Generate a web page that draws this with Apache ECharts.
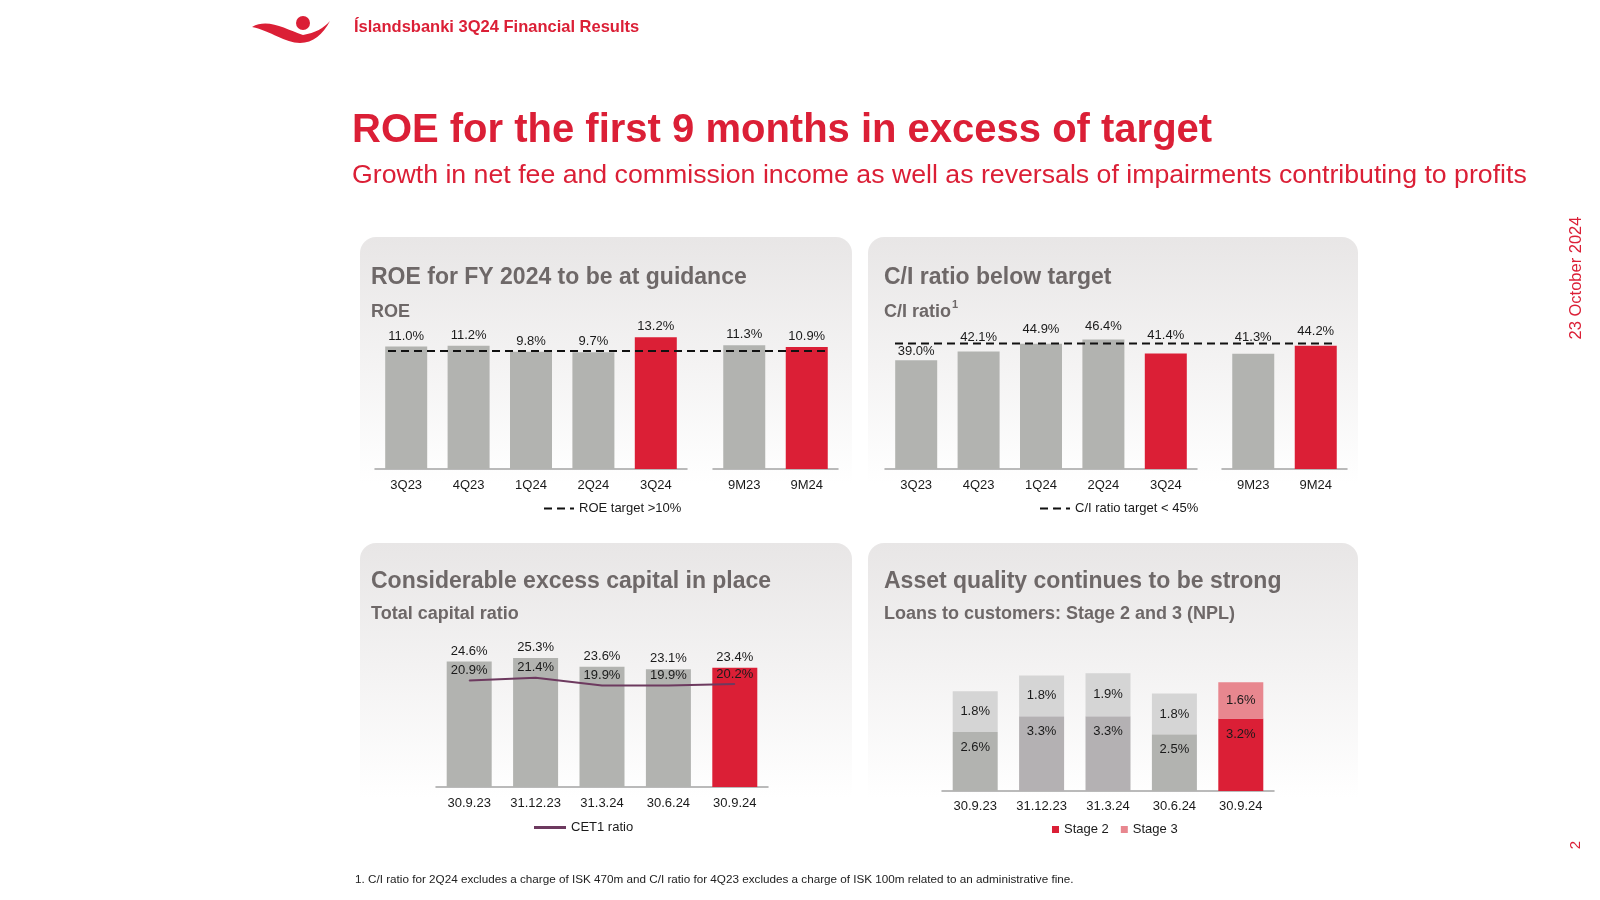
<!DOCTYPE html>
<html><head><meta charset="utf-8">
<script src="https://cdn.jsdelivr.net/npm/echarts@6/dist/echarts.min.js"></script>
<style>html,body{margin:0;padding:0;background:#fff}#c{width:1600px;height:900px}</style>
</head><body><div id="c"></div>
<script>
// ---------- data ----------
const quarterCats = ['3Q23', '4Q23', '1Q24', '2Q24', '3Q24'];
const ytdCats = ['9M23', '9M24'];
const roeQuarter = [11.0, 11.2, 9.8, 9.7, 13.2];
const roeYtd = [11.3, 10.9];
const roeTarget = 10;
const ciQuarter = [39.0, 42.1, 44.9, 46.4, 41.4];
const ciYtd = [41.3, 44.2];
const ciTarget = 45;
const dateCats = ['30.9.23', '31.12.23', '31.3.24', '30.6.24', '30.9.24'];
const totalCapital = [24.6, 25.3, 23.6, 23.1, 23.4];
const cet1 = [20.9, 21.4, 19.9, 19.9, 20.2];
const stage2 = [2.6, 3.3, 3.3, 2.5, 3.2];
const stage3 = [1.8, 1.8, 1.9, 1.8, 1.6];

// ---------- style ----------
const F = '"Liberation Sans", Arial, sans-serif';
const RED = '#db1f36', PINK = '#e8878f', GRAY = '#b2b3b0', MAUVE = '#b4b1b3', LGRAY = '#d5d5d5';
const HEAD = '#6e6868', TXT = '#1a1a1a', PLUM = '#6d3a5f';
const ROE_MIN = -17.5, ROE_MAX = 16.5;
const pctV = p => (Array.isArray(p.value) ? p.value[1] : p.value).toFixed(1) + '%';

const Swoosh = echarts.graphic.extendPath('M252,27 C268,18 285,29 303,35 C315,33 324,28 330,21 C323,34 313,43 300,43 C285,43 271,31 252,27 Z', {});
echarts.graphic.registerShape('swoosh', Swoosh);

const chart = echarts.init(document.getElementById('c'), null, {renderer: 'canvas'});

function catAxis(gi, data, margin) {
  return {type: 'category', gridIndex: gi, data: data, axisTick: {show: false},
    axisLine: {onZero: false, lineStyle: {color: '#a4a4a4', width: 1.5}},
    axisLabel: {fontSize: 13, color: TXT, margin: margin, fontFamily: F}};
}
function valAxis(gi, min, max) { return {type: 'value', gridIndex: gi, min: min, max: max, show: false}; }
function hideX(gi) { return {type: 'value', gridIndex: gi, min: 0, max: 1, show: false}; }
function barLabel(dist) { return {show: true, position: 'top', distance: dist, fontSize: 13, color: TXT, fontFamily: F, formatter: pctV}; }
function colored(vals, base) { return vals.map((v, i) => ({value: v, itemStyle: {color: i === vals.length - 1 ? RED : base}})); }

// ROE bars rise from the bottom of the (non-zero based) value axis, as in the original chart
function roeBars(axisIdx, vals) {
  return {
    type: 'custom', name: 'ROE', xAxisIndex: axisIdx, yAxisIndex: axisIdx,
    data: vals.map((v, i) => [i, v]),
    renderItem: function (params, api) {
      const i = api.value(0), v = api.value(1);
      const top = api.coord([i, v]);
      const base = api.coord([i, ROE_MIN]);
      const last = params.dataIndex === vals.length - 1;
      return {type: 'group', children: [
        {type: 'rect', shape: {x: top[0] - 21, y: top[1], width: 42, height: base[1] - top[1]}, style: {fill: last ? RED : GRAY}},
        {type: 'text', style: {x: top[0], y: top[1] - 4, text: v.toFixed(1) + '%', align: 'center', verticalAlign: 'bottom', fontSize: 13, fontFamily: F, fill: TXT}}
      ]};
    }
  };
}

const grids = [
  {left: 375, top: 323, width: 312, height: 146},
  {left: 713, top: 323, width: 125, height: 146},
  {left: 388, top: 323, width: 439, height: 146},
  {left: 885, top: 324, width: 312, height: 145},
  {left: 1222, top: 324, width: 125, height: 145},
  {left: 895, top: 324, width: 440, height: 145},
  {left: 436, top: 634, width: 332, height: 153},
  {left: 942, top: 655, width: 332, height: 136}
];

const xAxes = [
  catAxis(0, quarterCats, 10), catAxis(1, ytdCats, 10), hideX(2),
  catAxis(3, quarterCats, 10), catAxis(4, ytdCats, 10), hideX(5),
  catAxis(6, dateCats, 9.5), catAxis(7, dateCats, 9)
];
const yAxes = [
  valAxis(0, ROE_MIN, ROE_MAX), valAxis(1, ROE_MIN, ROE_MAX), valAxis(2, ROE_MIN, ROE_MAX),
  valAxis(3, 0, 52), valAxis(4, 0, 52), valAxis(5, 0, 52),
  valAxis(6, 0, 30), valAxis(7, 0, 6)
];

const ciGapQ = [2, 8, 8, 7, 12];
const ciGapY = [10, 8];
const ciItems = (vals, gaps) => vals.map((v, i) => ({
  value: v,
  itemStyle: {color: i === vals.length - 1 ? RED : GRAY},
  label: {distance: gaps[i]}
}));

const dashStyle = {color: '#111', width: 2, type: [8, 5]};
const series = [
  roeBars(0, roeQuarter),
  roeBars(1, roeYtd),
  {type: 'line', name: 'ROE target >10%', xAxisIndex: 2, yAxisIndex: 2, symbol: 'none', silent: true, z: 5,
    data: [[0, roeTarget], [1, roeTarget]], lineStyle: dashStyle, itemStyle: {color: '#111'}},
  {type: 'bar', name: 'C/I', xAxisIndex: 3, yAxisIndex: 3, barWidth: 42, data: ciItems(ciQuarter, ciGapQ), label: barLabel(8)},
  {type: 'bar', name: 'C/I YTD', xAxisIndex: 4, yAxisIndex: 4, barWidth: 42, data: ciItems(ciYtd, ciGapY), label: barLabel(8)},
  {type: 'line', name: 'C/I ratio target < 45%', xAxisIndex: 5, yAxisIndex: 5, symbol: 'none', silent: true, z: 5,
    data: [[0, ciTarget], [1, ciTarget]], lineStyle: dashStyle, itemStyle: {color: '#111'}},
  {type: 'bar', name: 'Total capital ratio', xAxisIndex: 6, yAxisIndex: 6, barWidth: 45, data: colored(totalCapital, GRAY), label: barLabel(4)},
  {type: 'line', name: 'CET1 ratio', xAxisIndex: 6, yAxisIndex: 6, data: cet1, symbol: 'circle', symbolSize: 1, z: 5,
    lineStyle: {color: PLUM, width: 2}, itemStyle: {color: PLUM},
    label: {show: true, position: 'top', distance: 3, fontSize: 13, color: TXT, fontFamily: F, formatter: pctV}},
  {type: 'bar', name: 'Stage 2', stack: 'npl', xAxisIndex: 7, yAxisIndex: 7, barWidth: 45, itemStyle: {color: RED},
    data: stage2.map((v, i) => ({value: v, itemStyle: {color: i === stage2.length - 1 ? RED : (i === 1 || i === 2 ? MAUVE : GRAY)}})),
    label: {show: true, position: 'insideTop', distance: 9, fontSize: 13, color: TXT, fontFamily: F, formatter: pctV}},
  {type: 'bar', name: 'Stage 3', stack: 'npl', xAxisIndex: 7, yAxisIndex: 7, barWidth: 45, itemStyle: {color: PINK},
    data: stage3.map((v, i) => ({value: v, itemStyle: {color: i === stage3.length - 1 ? PINK : LGRAY}})),
    label: {show: true, position: 'inside', fontSize: 13, color: TXT, fontFamily: F, formatter: pctV}}
];

const legText = {fontSize: 13, color: TXT, fontFamily: F};
const legends = [
  {data: ['ROE target >10%'], left: 538, top: 497, itemWidth: 30, itemHeight: 2, selectedMode: false, textStyle: legText},
  {data: ['C/I ratio target < 45%'], left: 1034, top: 497, itemWidth: 30, itemHeight: 2, selectedMode: false, textStyle: legText},
  {data: [{name: 'CET1 ratio', icon: 'rect'}], left: 529, top: 816, itemWidth: 32, itemHeight: 3, selectedMode: false, textStyle: legText},
  {data: ['Stage 2', 'Stage 3'], left: 1047, top: 818, icon: 'rect', itemWidth: 7, itemHeight: 7, itemGap: 12, selectedMode: false, textStyle: legText}
];

function panel(x, y, w, h) {
  return {type: 'rect', z: -10, silent: true, shape: {x: x, y: y, width: w, height: h, r: [16, 16, 0, 0]},
    style: {fill: new echarts.graphic.LinearGradient(0, 0, 0, 1, [{offset: 0, color: '#e8e6e6'}, {offset: 0.85, color: '#ffffff'}, {offset: 1, color: '#ffffff'}])}};
}
function txt(x, y, text, size, weight, color) {
  return {type: 'text', z: 10, silent: true, style: {x: x, y: y, text: text, fontSize: size, fontWeight: weight, fontFamily: F, fill: color, verticalAlign: 'middle', align: 'left'}};
}

const graphics = [
  panel(360, 237, 492, 290), panel(868, 237, 490, 290), panel(360, 543, 492, 300), panel(868, 543, 490, 300),
  {type: 'swoosh', z: 10, silent: true, shape: {}, style: {fill: RED}},
  {type: 'circle', z: 10, silent: true, shape: {cx: 303, cy: 23, r: 7}, style: {fill: RED}},
  txt(354, 27, 'Íslandsbanki 3Q24 Financial Results', 16.5, 'bold', RED),
  txt(352, 131, 'ROE for the first 9 months in excess of target', 40, 'bold', RED),
  txt(352, 176, 'Growth in net fee and commission income as well as reversals of impairments contributing to profits', 26.7, 'normal', RED),
  {type: 'text', z: 10, silent: true, x: 1576, y: 278, rotation: Math.PI / 2,
    style: {x: 0, y: 0, text: '23 October 2024', fontSize: 16.5, fontFamily: F, fill: RED, align: 'center', verticalAlign: 'middle'}},
  {type: 'text', z: 10, silent: true, x: 1576, y: 845, rotation: Math.PI / 2,
    style: {x: 0, y: 0, text: '2', fontSize: 15, fontFamily: F, fill: RED, align: 'center', verticalAlign: 'middle'}},
  txt(355, 880, '1. C/I ratio for 2Q24 excludes a charge of ISK 470m and C/I ratio for 4Q23 excludes a charge of ISK 100m related to an administrative fine.', 11.7, 'normal', '#222'),
  txt(371, 278, 'ROE for FY 2024 to be at guidance', 23, 'bold', HEAD),
  txt(371, 312, 'ROE', 18, 'bold', HEAD),
  txt(884, 278, 'C/I ratio below target', 23, 'bold', HEAD),
  txt(884, 312, 'C/I ratio', 18, 'bold', HEAD),
  txt(952, 305, '1', 11, 'bold', HEAD),
  txt(371, 582, 'Considerable excess capital in place', 23, 'bold', HEAD),
  txt(371, 614, 'Total capital ratio', 18, 'bold', HEAD),
  txt(884, 582, 'Asset quality continues to be strong', 23, 'bold', HEAD),
  txt(884, 614, 'Loans to customers: Stage 2 and 3 (NPL)', 18, 'bold', HEAD)
];

chart.setOption({
  animation: false,
  backgroundColor: '#ffffff',
  textStyle: {fontFamily: F},
  grid: grids,
  xAxis: xAxes,
  yAxis: yAxes,
  legend: legends,
  series: series,
  graphic: graphics
});
</script></body></html>
